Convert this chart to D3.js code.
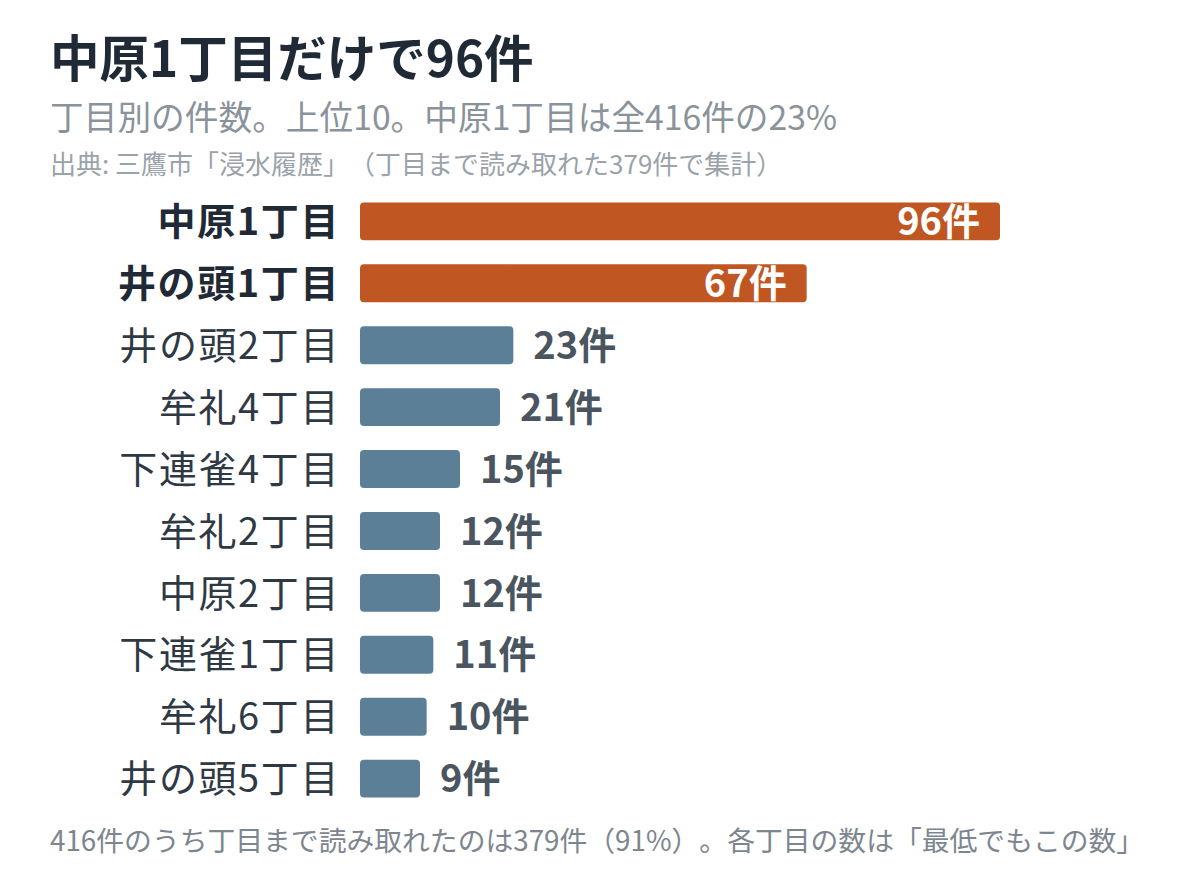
<!DOCTYPE html>
<html>
<head>
<meta charset="utf-8">
<script src="https://cdn.jsdelivr.net/npm/d3@7"></script>
<style>
  body { margin: 0; background: #fff; }
  svg { display: block; font-family: "Noto Sans CJK JP", "Noto Sans", sans-serif; text-spacing-trim: space-all; }
</style>
</head>
<body>
<svg id="chart" width="1200" height="886"></svg>
<script>
// 丁目別の浸水件数（上位10）
var chome = ["中原1丁目", "井の頭1丁目", "井の頭2丁目", "牟礼4丁目", "下連雀4丁目",
             "牟礼2丁目", "中原2丁目", "下連雀1丁目", "牟礼6丁目", "井の頭5丁目"];
var counts = [96, 67, 23, 21, 15, 12, 12, 11, 10, 9];
var highlighted = ["中原1丁目", "井の頭1丁目"];

var w = 1200;
var h = 886;
var left = 360;
var barMax = 1000;

var svg = d3.select("#chart");

svg.append("text")
    .attr("x", 50).attr("y", 77)
    .attr("font-size", 49.5).attr("font-weight", 700)
    .attr("fill", "#1f2a36")
    .text("中原1丁目だけで96件");

svg.append("text")
    .attr("x", 50).attr("y", 130)
    .attr("font-size", 33.7)
    .attr("fill", "#8a939c")
    .text("丁目別の件数。上位10。中原1丁目は全416件の23%");

svg.append("text")
    .attr("x", 50).attr("y", 174)
    .attr("font-size", 26)
    .attr("fill", "#9aa2aa")
    .text("出典: 三鷹市「浸水履歴」（丁目まで読み取れた379件で集計）");

var x = d3.scaleLinear()
    .domain([0, d3.max(counts)])
    .range([left, barMax]);

var y = d3.scaleBand()
    .domain(chome)
    .range([190, 810])
    .paddingInner(0.387)
    .paddingOuter(0.2);

var isHi = (d) => highlighted.indexOf(d) >= 0;

var rows = svg.selectAll("g.row")
    .data(chome)
    .enter()
    .append("g")
    .attr("class", "row");

rows.append("rect")
    .attr("x", x(0))
    .attr("y", (d) => y(d))
    .attr("width", (d, i) => x(counts[i]) - x(0))
    .attr("height", y.bandwidth())
    .attr("rx", 4)
    .attr("fill", (d) => isHi(d) ? "#c05621" : "#5b7f96");

rows.append("text")
    .attr("x", left - 20)
    .attr("y", (d) => y(d) + y.bandwidth() / 2)
    .attr("dy", "0.36em")
    .attr("text-anchor", "end")
    .attr("font-size", 38)
    .attr("letter-spacing", 1.6)
    .attr("font-weight", (d) => isHi(d) ? 700 : 400)
    .attr("fill", (d) => isHi(d) ? "#1f2a36" : "#2f3944")
    .text((d) => d);

rows.append("text")
    .attr("x", (d, i) => isHi(d) ? x(counts[i]) - 20 : x(counts[i]) + 20)
    .attr("y", (d) => y(d) + y.bandwidth() / 2)
    .attr("dy", "0.36em")
    .attr("text-anchor", (d) => isHi(d) ? "end" : "start")
    .attr("font-size", 38)
    .attr("font-weight", 700)
    .attr("fill", (d) => isHi(d) ? "#ffffff" : "#4a5560")
    .text((d, i) => counts[i] + "件");

svg.append("text")
    .attr("x", 50).attr("y", 851)
    .attr("font-size", 27.8)
    .attr("fill", "#7d868f")
    .text("416件のうち丁目まで読み取れたのは379件（91%）。各丁目の数は「最低でもこの数」");
</script>
</body>
</html>
